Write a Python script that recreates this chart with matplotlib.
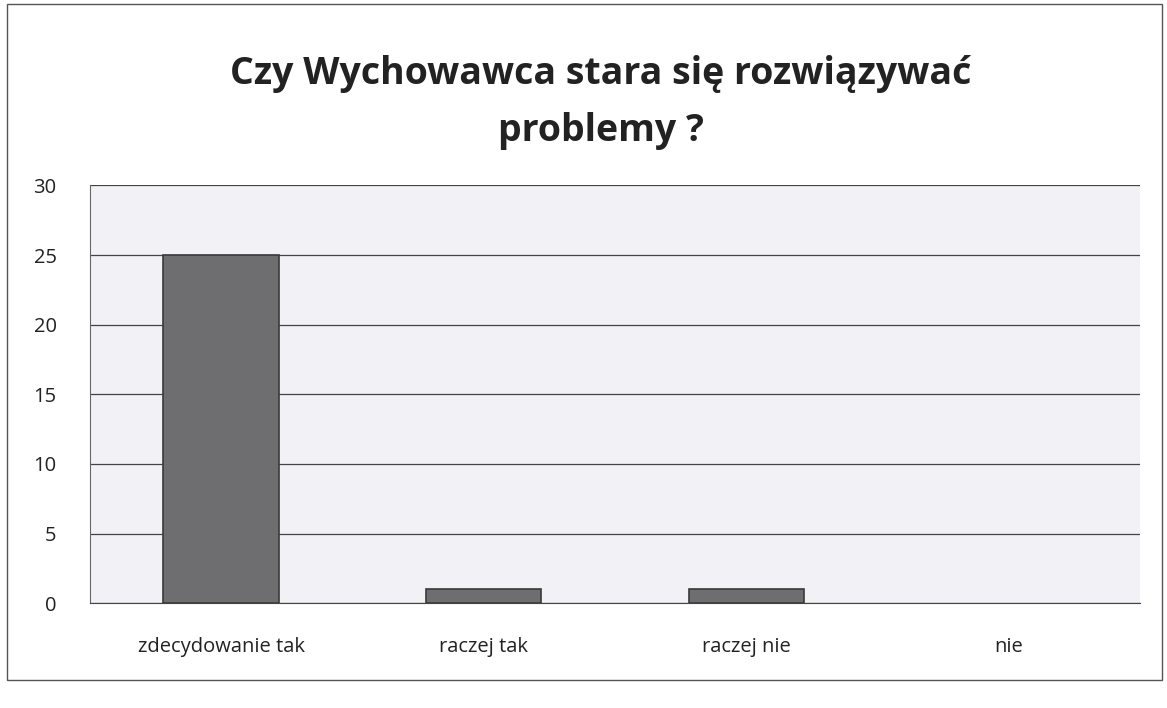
import matplotlib
matplotlib.use("Agg")
import matplotlib.pyplot as plt
from matplotlib.patches import Rectangle

categories = ["zdecydowanie tak", "raczej tak", "raczej nie", "nie"]
values = [25, 1, 1, 0]
yticks = [0, 5, 10, 15, 20, 25, 30]
title = "Czy Wychowawca stara się rozwiązywać\nproblemy ?"

fig = plt.figure(figsize=(11.67, 7.08), dpi=100)
fig.patch.set_facecolor("white")
ax = fig.add_axes([0.077, 0.148, 0.900, 0.590])
ax.set_facecolor("#f1f1f6")

x = range(len(categories))
lws = [1.2 if v else 0 for v in values]
ax.bar(x, values, width=0.44, color="#6e6e70", edgecolor="#3a3a3a", linewidth=lws, zorder=3)
ax.set_xlim(-0.5, 3.5)
ax.set_ylim(0, 30)
ax.set_yticks(yticks)
ax.yaxis.grid(True, color="#444444", linewidth=0.9, zorder=1)
ax.set_xticks(list(x))
ax.set_xticklabels(categories, fontsize=14.5, family="Open Sans", color="#222222")
for lbl in ax.get_yticklabels():
    lbl.set_fontsize(14.5)
    lbl.set_family("Open Sans")
    lbl.set_color("#222222")
ax.tick_params(axis="x", length=0, pad=24)
ax.tick_params(axis="y", length=0, pad=24)
for s in ["top", "right"]:
    ax.spines[s].set_visible(False)
ax.spines["left"].set_color("#666666")
ax.spines["bottom"].set_color("#444444")

fig.text(0.515, 0.855, title, ha="center", va="center", fontsize=27,
         fontweight="bold", family="Open Sans", color="#222222", linespacing=1.65)

fig.add_artist(Rectangle((0.006, 0.04), 0.99, 0.955, transform=fig.transFigure,
                         fill=False, edgecolor="#555555", linewidth=1.0))

fig.savefig("out.png", dpi=100)
